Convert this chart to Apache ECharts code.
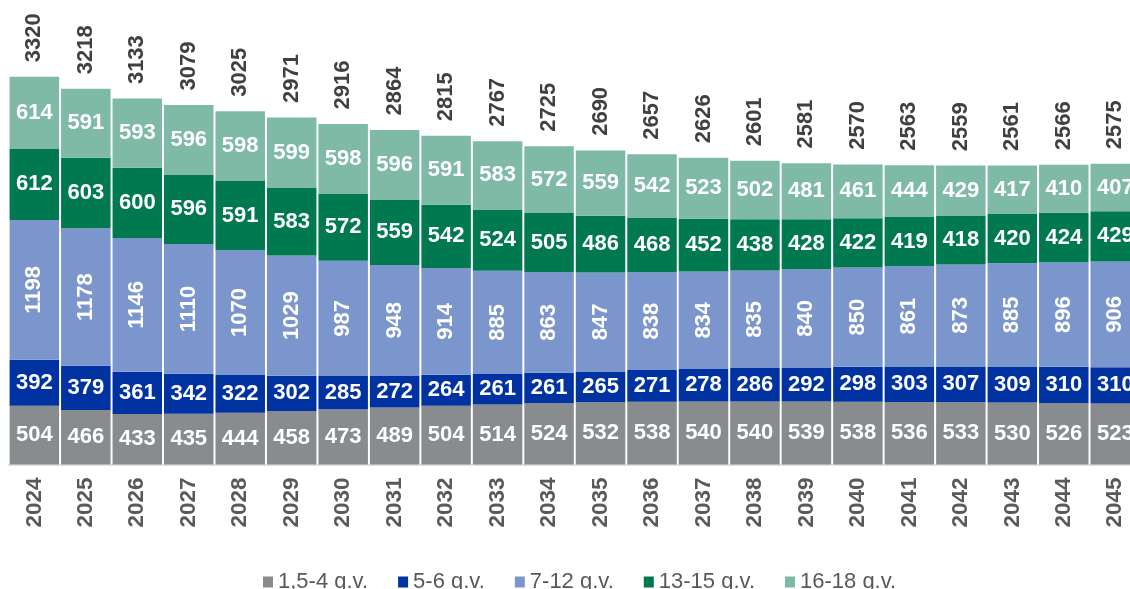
<!DOCTYPE html>
<html><head><meta charset="utf-8">
<script src="https://cdn.jsdelivr.net/npm/echarts@6/dist/echarts.min.js"></script>
<style>html,body{margin:0;padding:0;background:#fff;overflow:hidden}#c{width:1141px;height:589px}</style>
</head><body><div id="c"></div>
<script>
const years = ['2024','2025','2026','2027','2028','2029','2030','2031','2032','2033','2034','2035','2036','2037','2038','2039','2040','2041','2042','2043','2044','2045'];
const age1_4 = [504,466,433,435,444,458,473,489,504,514,524,532,538,540,540,539,538,536,533,530,526,523];
const age5_6 = [392,379,361,342,322,302,285,272,264,261,261,265,271,278,286,292,298,303,307,309,310,310];
const age7_12 = [1198,1178,1146,1110,1070,1029,987,948,914,885,863,847,838,834,835,840,850,861,873,885,896,906];
const age13_15 = [612,603,600,596,591,583,572,559,542,524,505,486,468,452,438,428,422,419,418,420,424,429];
const age16_18 = [614,591,593,596,598,599,598,596,591,583,572,559,542,523,502,481,461,444,429,417,410,407];
const totals = [3320,3218,3133,3079,3025,2971,2916,2864,2815,2767,2725,2690,2657,2626,2601,2581,2570,2563,2559,2561,2566,2575];
const seriesNames = ['1,5-4 g.v.','5-6 g.v.','7-12 g.v.','13-15 g.v.','16-18 g.v.'];
const colors = ['#898c8f','#0033a1','#7b96cd','#007950','#7fbaa6'];

const font = 'Arial, "Liberation Sans", sans-serif';
const inLabel = {show:true, position:'inside', color:'#fff', fontWeight:'bold', fontSize:22, fontFamily:font};
const data = [age1_4, age5_6, age7_12, age13_15, age16_18];
const series = data.map((d,i)=>({
  name: seriesNames[i], type:'bar', stack:'s', data:d, barWidth:49.5,
  itemStyle:{color:colors[i]},
  label: i===2 ? Object.assign({}, inLabel, {rotate:90}) : inLabel
}));
series.push({
  name:'total', type:'custom', silent:true,
  data: totals.map((t,i)=>[i,t]),
  encode:{x:0, y:1},
  renderItem: (params, api) => {
    const pt = api.coord([api.value(0), api.value(1)]);
    return {type:'text', x: pt[0], y: pt[1]-14.5, rotation: Math.PI/2,
      style:{text: String(api.value(1)), fill:'#404040', fontWeight:'bold', fontSize:22, fontFamily:font,
        align:'left', verticalAlign:'middle'}};
  }
});
const chart = echarts.init(document.getElementById('c'), null, {renderer:'canvas'});
chart.setOption({
  animation:false,
  grid:{left:8.6, right:0, top:20.7, bottom:124.5, containLabel:false},
  legend:{data:seriesNames, left:258, top:566, itemWidth:10, itemHeight:11, itemGap:30,
    textStyle:{color:'#595959', fontSize:22, fontFamily:font}, icon:'rect'},
  xAxis:{type:'category', data:years, axisTick:{show:false},
    axisLine:{lineStyle:{color:'#d9d9d9', width:1.5}},
    axisLabel:{rotate:90, margin:13, color:'#595959', fontWeight:'bold', fontSize:22.5, fontFamily:font}},
  yAxis:{type:'value', min:0, max:3800, show:false, splitLine:{show:false}},
  series
});
</script></body></html>
